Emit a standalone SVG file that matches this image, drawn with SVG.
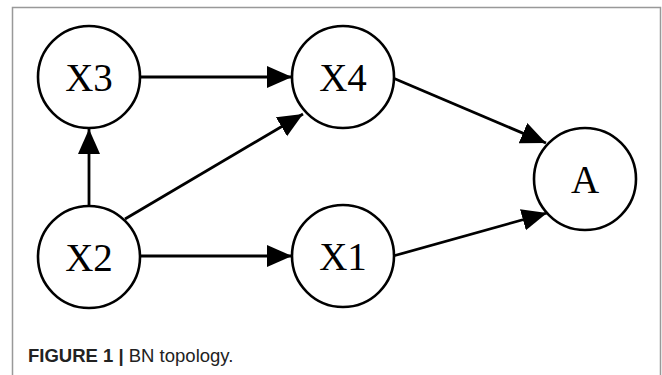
<svg xmlns="http://www.w3.org/2000/svg" width="662" height="375" viewBox="0 0 662 375">
<style>
.node circle{fill:#fff;stroke:#000;stroke-width:2.6}
.node text{font-family:"Liberation Serif","Times New Roman",serif;font-size:39px;fill:#000;text-anchor:middle}
.edge{stroke:#000;stroke-width:2.8;fill:none;marker-end:url(#ah)}
.cap{font-family:"Liberation Sans",Arial,sans-serif;font-size:18.5px;fill:#222}
</style>
<defs>
<marker id="ah" markerUnits="userSpaceOnUse" markerWidth="26" markerHeight="24" refX="25" refY="11" orient="auto">
<path d="M0,0 L25,11 L0,22 Z" fill="#000"/>
</marker>
</defs>
<rect x="0" y="0" width="662" height="375" fill="#fff"/>
<path d="M12.5,375 V7.5 H660.5 V375" fill="none" stroke="#999" stroke-width="1.5"/>
<g id="connectors">
<line class="edge" x1="140" y1="77" x2="292" y2="77"/>
<line class="edge" x1="89" y1="206" x2="89" y2="129"/>
<line class="edge" x1="125" y1="219" x2="303" y2="114"/>
<line class="edge" x1="140" y1="256" x2="292" y2="256"/>
<line class="edge" x1="393" y1="78" x2="546" y2="143"/>
<line class="edge" x1="393" y1="256" x2="547" y2="213"/>
</g>
<g id="X3" class="node"><circle cx="89" cy="77" r="51"/><text x="89" y="91">X3</text></g>
<g id="X4" class="node"><circle cx="343" cy="77" r="51"/><text x="343" y="91">X4</text></g>
<g id="A" class="node"><circle cx="585" cy="179" r="51"/><text x="585" y="193">A</text></g>
<g id="X2" class="node"><circle cx="89" cy="257" r="51"/><text x="89" y="271">X2</text></g>
<g id="X1" class="node"><circle cx="343" cy="256" r="51"/><text x="343" y="270">X1</text></g>
<text class="cap" x="28" y="362"><tspan font-weight="bold">FIGURE 1 |</tspan> BN topology.</text>
</svg>
